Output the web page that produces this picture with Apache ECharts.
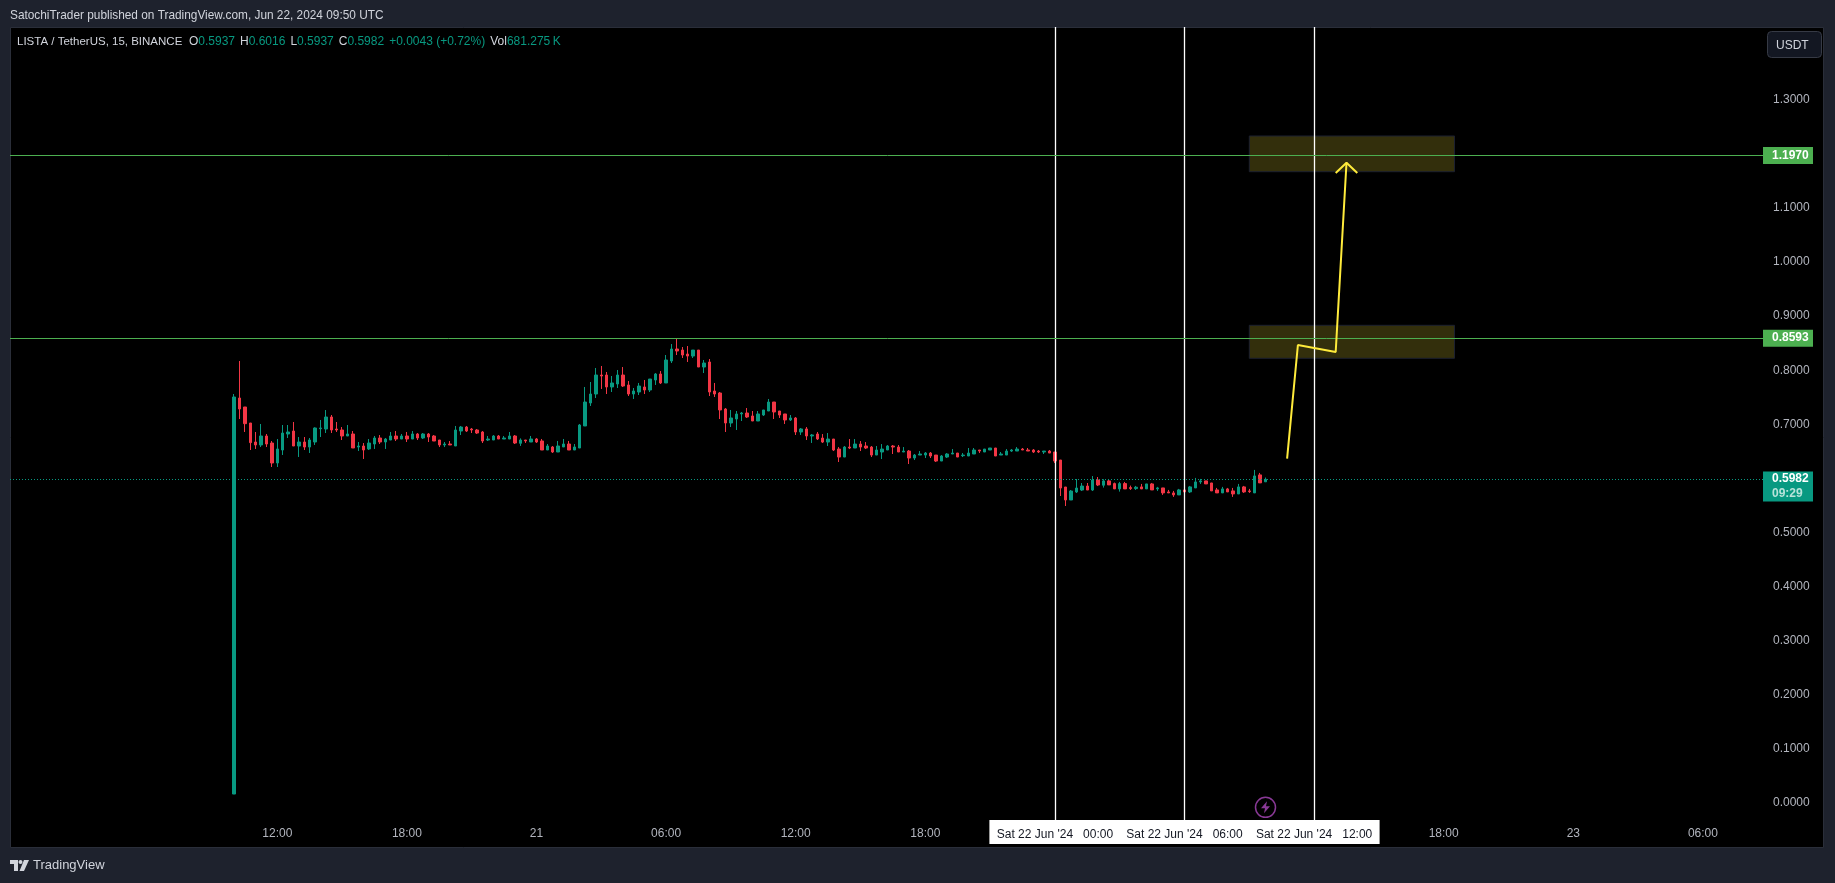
<!DOCTYPE html>
<html>
<head>
<meta charset="utf-8">
<title>LISTA / TetherUS</title>
<script src="https://cdn.jsdelivr.net/npm/echarts@6/dist/echarts.min.js"></script>
<style>
  html, body { margin: 0; padding: 0; background: #1e222d; }
  #main { width: 1835px; height: 883px; }
</style>
</head>
<body>
<div id="main"></div>
<script>
const font = "'Liberation Sans', sans-serif";

// 15 minute candles: open, close, low, high
const ohlc = [
  [0.0166,0.7505,0.0166,0.7560],[0.7486,0.7283,0.7098,0.8170],[0.7320,0.7012,0.6858,0.7320],[0.7024,0.6661,0.6525,0.7024],
  [0.6673,0.6618,0.6544,0.6858],[0.6618,0.6784,0.6580,0.7006],[0.6784,0.6636,0.6580,0.6821],[0.6654,0.6285,0.6211,0.6691],
  [0.6285,0.6544,0.6211,0.6728],[0.6525,0.6839,0.6433,0.6987],[0.6821,0.6858,0.6747,0.6987],[0.6876,0.6599,0.6599,0.7043],
  [0.6599,0.6673,0.6396,0.6765],[0.6673,0.6580,0.6525,0.6765],[0.6580,0.6710,0.6470,0.6747],[0.6673,0.6932,0.6618,0.6944],
  [0.6919,0.6932,0.6765,0.7080],[0.6913,0.7135,0.6839,0.7264],[0.7135,0.6895,0.6839,0.7172],[0.6913,0.6895,0.6858,0.7043],
  [0.6895,0.6784,0.6710,0.6950],[0.6784,0.6821,0.6784,0.6987],[0.6821,0.6562,0.6562,0.6876],[0.6580,0.6599,0.6507,0.6673],
  [0.6599,0.6525,0.6359,0.6654],[0.6544,0.6654,0.6525,0.6728],[0.6636,0.6747,0.6544,0.6784],[0.6747,0.6673,0.6636,0.6802],
  [0.6673,0.6728,0.6544,0.6747],[0.6710,0.6784,0.6710,0.6858],[0.6784,0.6728,0.6691,0.6876],[0.6728,0.6784,0.6728,0.6821],
  [0.6784,0.6728,0.6673,0.6858],[0.6728,0.6821,0.6728,0.6876],[0.6821,0.6747,0.6710,0.6839],[0.6747,0.6821,0.6728,0.6839],
  [0.6821,0.6765,0.6673,0.6839],[0.6784,0.6691,0.6691,0.6802],[0.6710,0.6618,0.6580,0.6710],[0.6618,0.6636,0.6580,0.6673],
  [0.6636,0.6618,0.6618,0.6691],[0.6599,0.6895,0.6599,0.6969],[0.6876,0.6950,0.6802,0.6969],[0.6950,0.6876,0.6858,0.6969],
  [0.6913,0.6895,0.6839,0.6932],[0.6895,0.6839,0.6821,0.6913],[0.6858,0.6691,0.6654,0.6876],[0.6710,0.6728,0.6691,0.6784],
  [0.6710,0.6784,0.6710,0.6802],[0.6784,0.6728,0.6728,0.6802],[0.6728,0.6747,0.6728,0.6784],[0.6728,0.6784,0.6728,0.6858],
  [0.6784,0.6654,0.6636,0.6802],[0.6649,0.6710,0.6600,0.6740],[0.6710,0.6692,0.6655,0.6710],[0.6673,0.6729,0.6673,0.6784],
  [0.6729,0.6673,0.6655,0.6747],[0.6692,0.6525,0.6525,0.6729],[0.6525,0.6599,0.6525,0.6636],[0.6581,0.6488,0.6470,0.6599],
  [0.6488,0.6599,0.6488,0.6692],[0.6581,0.6636,0.6581,0.6729],[0.6636,0.6525,0.6525,0.6692],[0.6525,0.6581,0.6525,0.6636],
  [0.6562,0.6987,0.6562,0.7006],[0.6969,0.7412,0.6969,0.7690],[0.7394,0.7560,0.7339,0.7782],[0.7560,0.7911,0.7486,0.8041],
  [0.7911,0.7893,0.7653,0.8078],[0.7911,0.7690,0.7560,0.7967],[0.7690,0.7764,0.7597,0.7893],[0.7745,0.7911,0.7671,0.8004],
  [0.7911,0.7708,0.7690,0.8059],[0.7727,0.7560,0.7523,0.7800],[0.7560,0.7616,0.7468,0.7671],[0.7597,0.7708,0.7542,0.7764],
  [0.7690,0.7634,0.7560,0.7819],[0.7634,0.7837,0.7597,0.7837],[0.7819,0.7930,0.7727,0.7948],[0.7930,0.7764,0.7745,0.7985],
  [0.7764,0.8189,0.7764,0.8281],[0.8170,0.8392,0.8133,0.8484],[0.8392,0.8355,0.8281,0.8577],[0.8373,0.8281,0.8226,0.8429],
  [0.8299,0.8262,0.8152,0.8447],[0.8262,0.8373,0.8226,0.8373],[0.8373,0.8059,0.8059,0.8373],[0.8059,0.8133,0.7948,0.8189],
  [0.8152,0.7597,0.7523,0.8207],[0.7616,0.7560,0.7505,0.7764],[0.7579,0.7265,0.7098,0.7597],[0.7283,0.7024,0.6858,0.7301],
  [0.7024,0.7117,0.6950,0.7265],[0.7098,0.7191,0.6895,0.7246],[0.7191,0.7209,0.7061,0.7228],[0.7209,0.7135,0.7117,0.7301],
  [0.7154,0.7061,0.7061,0.7246],[0.7061,0.7191,0.7061,0.7246],[0.7172,0.7265,0.7154,0.7265],[0.7246,0.7412,0.7246,0.7468],
  [0.7412,0.7228,0.7098,0.7412],[0.7246,0.7172,0.7117,0.7246],[0.7191,0.7080,0.7006,0.7191],[0.7080,0.7117,0.7061,0.7172],
  [0.7117,0.6858,0.6803,0.7135],[0.6858,0.6914,0.6803,0.6932],[0.6914,0.6784,0.6710,0.6950],[0.6784,0.6803,0.6655,0.6821],
  [0.6821,0.6729,0.6710,0.6858],[0.6746,0.6672,0.6654,0.6820],[0.6672,0.6728,0.6599,0.6839],[0.6728,0.6525,0.6506,0.6728],
  [0.6543,0.6395,0.6303,0.6580],[0.6395,0.6580,0.6395,0.6599],[0.6580,0.6562,0.6543,0.6728],[0.6562,0.6635,0.6562,0.6728],
  [0.6635,0.6580,0.6506,0.6691],[0.6599,0.6562,0.6543,0.6672],[0.6580,0.6432,0.6395,0.6599],[0.6432,0.6525,0.6432,0.6599],
  [0.6488,0.6543,0.6358,0.6635],[0.6525,0.6599,0.6525,0.6617],[0.6599,0.6580,0.6451,0.6617],[0.6580,0.6488,0.6488,0.6617],
  [0.6488,0.6506,0.6488,0.6580],[0.6506,0.6377,0.6266,0.6525],[0.6377,0.6432,0.6340,0.6451],[0.6432,0.6451,0.6432,0.6506],
  [0.6432,0.6469,0.6377,0.6488],[0.6469,0.6414,0.6377,0.6488],[0.6432,0.6321,0.6303,0.6432],[0.6321,0.6414,0.6321,0.6432],
  [0.6395,0.6451,0.6377,0.6469],[0.6451,0.6469,0.6451,0.6543],[0.6469,0.6395,0.6395,0.6469],[0.6420,0.6432,0.6395,0.6469],
  [0.6414,0.6469,0.6414,0.6562],[0.6451,0.6525,0.6451,0.6562],[0.6525,0.6506,0.6469,0.6525],[0.6488,0.6543,0.6488,0.6543],
  [0.6525,0.6562,0.6525,0.6562],[0.6562,0.6414,0.6414,0.6562],[0.6432,0.6451,0.6432,0.6488],[0.6432,0.6506,0.6432,0.6543],
  [0.6506,0.6525,0.6488,0.6543],[0.6506,0.6543,0.6506,0.6580],[0.6543,0.6525,0.6525,0.6562],[0.6525,0.6506,0.6506,0.6562],
  [0.6525,0.6488,0.6469,0.6543],[0.6506,0.6488,0.6469,0.6525],[0.6488,0.6506,0.6451,0.6506],[0.6506,0.6469,0.6469,0.6525],
  [0.6488,0.6321,0.6284,0.6488],[0.6340,0.5822,0.5675,0.6340],[0.5841,0.5601,0.5490,0.5841],[0.5601,0.5767,0.5601,0.5785],
  [0.5749,0.5822,0.5730,0.5989],[0.5785,0.5859,0.5767,0.5915],[0.5859,0.5785,0.5785,0.5915],[0.5785,0.5970,0.5767,0.6044],
  [0.5970,0.5878,0.5859,0.6026],[0.5874,0.5954,0.5830,0.5984],[0.5954,0.5880,0.5880,0.5972],[0.5904,0.5806,0.5806,0.5923],
  [0.5806,0.5904,0.5756,0.5935],[0.5904,0.5806,0.5806,0.5935],[0.5830,0.5812,0.5787,0.5867],[0.5812,0.5837,0.5787,0.5861],
  [0.5843,0.5806,0.5806,0.5898],[0.5806,0.5898,0.5806,0.5898],[0.5898,0.5787,0.5787,0.5916],[0.5806,0.5824,0.5769,0.5843],
  [0.5824,0.5732,0.5695,0.5824],[0.5750,0.5732,0.5732,0.5787],[0.5732,0.5695,0.5658,0.5769],[0.5695,0.5787,0.5695,0.5806],
  [0.5787,0.5750,0.5713,0.5806],[0.5750,0.5843,0.5732,0.5861],[0.5824,0.5935,0.5824,0.6009],[0.5935,0.5954,0.5898,0.5990],
  [0.5954,0.5898,0.5898,0.5954],[0.5916,0.5769,0.5769,0.5916],[0.5787,0.5732,0.5732,0.5824],[0.5732,0.5806,0.5732,0.5843],
  [0.5806,0.5750,0.5750,0.5824],[0.5769,0.5713,0.5658,0.5824],[0.5713,0.5843,0.5713,0.5898],[0.5843,0.5750,0.5732,0.5861],
  [0.5769,0.5756,0.5732,0.5806],[0.5732,0.6046,0.5732,0.6157],[0.6065,0.5917,0.5917,0.6101],[0.5937,0.5982,0.5937,0.6016]
];

// time axis: slot 41 is the first candle, 20 Jun 10:00
const firstCandleSlot = 41;
const slotCount = 325;
const categories = [];
for (let k = 0; k < slotCount; k++) categories.push("slot " + k);
const tickSlots = [49, 73, 97, 121, 145, 169, 265, 289, 313];
const tickTexts = ["12:00", "18:00", "21", "06:00", "12:00", "18:00", "18:00", "23", "06:00"];

const priceTicks = [0, 0.1, 0.2, 0.3, 0.4, 0.5, 0.6, 0.7, 0.8, 0.9, 1.0, 1.1, 1.2, 1.3];

// drawings on the chart
const verticalSlots = [193, 217, 241];
const verticalTexts = ["Sat 22 Jun '24   00:00", "Sat 22 Jun '24   06:00", "Sat 22 Jun '24   12:00"];
const levelPrices = [1.197, 0.8593];
const lastPrice = 0.5982;
const zoneSlots = [229, 267];
const zonePrices = [[1.1669, 1.2329], [0.822, 0.883]];
const arrowPath = [[236, 0.6364], [238, 0.8466], [245, 0.8336], [247, 1.1836]];
const arrowHead = [[245, 1.1645], [247, 1.1836], [249, 1.1645]];
const boltPoint = [232, -0.008];

const green = "#089981";
const red = "#f23645";
const priceTag = (bg, formatter) => ({
  show: true, position: "end", distance: -2, width: 41, align: "left",
  backgroundColor: bg, color: "#fff", fontFamily: font, fontSize: 12, fontWeight: "bold",
  lineHeight: 17, padding: [0, 0, 0, 9], formatter,
});

const myChart = echarts.init(document.getElementById("main"));
const option = {
  animation: false,
  backgroundColor: "#1e222d",
  title: [
    { left: 5, top: 4, text: "SatochiTrader published on TradingView.com, Jun 22, 2024 09:50 UTC",
      textStyle: { color: "#d1d4dc", fontFamily: font, fontSize: 11.85, fontWeight: "normal", lineHeight: 14 } },
    { left: 12, top: 30,
      text: "{h|LISTA / TetherUS, 15, BINANCE}{n|  O}{v|0.5937}{m|H}{v|0.6016}{m|L}{v|0.5937}{m|C}{v|0.5982}{d|+0.0043 (+0.72%)}{m|Vol}{v|681.275\u2009K}",
      textStyle: { fontFamily: font, fontSize: 12, lineHeight: 14, fontWeight: "normal",
        rich: {
          h: { color: "#d1d4dc", fontFamily: font, fontSize: 11.5, fontWeight: "normal" },
          n: { color: "#d1d4dc", fontFamily: font, fontSize: 12, fontWeight: "normal" },
          m: { color: "#d1d4dc", fontFamily: font, fontSize: 12, fontWeight: "normal", padding: [0, 0, 0, 5] },
          v: { color: green, fontFamily: font, fontSize: 12, fontWeight: "normal" },
          d: { color: green, fontFamily: font, fontSize: 12, fontWeight: "normal", padding: [0, 0, 0, 5] },
        } } },
  ],
  grid: { left: 10, top: 27, width: 1755, height: 793 },
  xAxis: {
    type: "category",
    data: categories,
    boundaryGap: true,
    axisLine: { show: false },
    axisTick: { show: false },
    splitLine: { show: false },
    axisLabel: {
      color: "#b2b5be", fontFamily: font, fontSize: 12, margin: 8,
      interval: (index) => tickSlots.includes(index),
      formatter: (value, index) => tickTexts[tickSlots.indexOf(index)] || "",
    },
  },
  yAxis: {
    type: "value",
    position: "right",
    min: -0.0314,
    max: 1.4344,
    axisLine: { show: false },
    axisTick: { show: false },
    splitLine: { show: false },
    axisLabel: {
      customValues: priceTicks,
      color: "#b2b5be", fontFamily: font, fontSize: 12, margin: 8, padding: [4, 0, 0, 0],
      formatter: (v) => v.toFixed(4),
    },
  },
  series: [
    {
      type: "candlestick",
      data: ohlc.map((row, i) => [firstCandleSlot + i, ...row]),
      encode: { x: 0, y: [1, 2, 3, 4] },
      barWidth: 3,
      itemStyle: { color: green, color0: red, borderColor: green, borderColor0: red, borderWidth: 1 },
      markArea: {
        silent: true,
        itemStyle: { color: "rgba(255, 235, 59, 0.2)", borderColor: "#1c2030", borderWidth: 1 },
        data: zonePrices.map((p) => [
          { xAxis: zoneSlots[0], yAxis: p[0] },
          { xAxis: zoneSlots[1], yAxis: p[1] },
        ]),
      },
      markLine: {
        silent: true,
        symbol: "none",
        precision: 4,
        data: [
          ...verticalSlots.map((slot, i) => ({
            xAxis: slot,
            lineStyle: { color: "#ffffff", width: 1.3, type: "solid" },
            label: {
              show: true, position: "start", distance: 0, width: 131, height: 19, lineHeight: 19,
              padding: [5, 0, 0, 0],
              align: "center", backgroundColor: "#fff", color: "#131722",
              fontFamily: font, fontSize: 12, formatter: verticalTexts[i],
            },
          })),
          ...levelPrices.map((price) => ({
            yAxis: price,
            lineStyle: { color: "#4caf50", width: 1, type: "solid" },
            label: priceTag("#4caf50", price.toFixed(4)),
          })),
          {
            yAxis: lastPrice,
            lineStyle: { color: green, width: 1, type: [1, 2] },
            label: {
              ...priceTag(green, "{p|" + lastPrice.toFixed(4) + "}\n{t|09:29}"),
              offset: [0, 7],
              rich: {
                p: { color: "#fff", fontFamily: font, fontSize: 12, fontWeight: "bold", lineHeight: 15 },
                t: { color: "#b8e3da", fontFamily: font, fontSize: 12, lineHeight: 15 },
              },
            },
          },
        ],
      },
    },
    {
      type: "line", data: arrowPath, symbol: "none", silent: true, z: 5,
      lineStyle: { color: "#ffeb3b", width: 2 },
    },
    {
      type: "line", data: arrowHead, symbol: "none", silent: true, z: 5,
      lineStyle: { color: "#ffeb3b", width: 2 },
    },
    {
      type: "scatter", data: [boltPoint], symbol: "circle", symbolSize: 20, silent: true, z: 6,
      itemStyle: { color: "transparent", borderColor: "#ab47bc", borderWidth: 1.5 },
    },
    {
      type: "scatter", data: [boltPoint], silent: true, z: 6,
      symbol: "path://M6 0L0 7L4 7L3 12L9 5L5 5Z", symbolSize: [9, 12],
      itemStyle: { color: "#ab47bc" },
    },
  ],
  graphic: [
    { type: "rect", z: -1, shape: { x: 10.5, y: 27.5, width: 1813, height: 820 },
      style: { fill: "#000", stroke: "#2a2e39", lineWidth: 1 } },
    { type: "rect", z: 10, shape: { x: 1767.5, y: 31.5, width: 54, height: 26, r: 4 },
      style: { fill: "#131722", stroke: "#363a45", lineWidth: 1 } },
    { type: "text", z: 11, x: 1776, y: 40,
      style: { text: "USDT", fill: "#d1d4dc", font: "12px " + font } },
    { type: "polygon", z: 11, shape: { points: [[10, 860], [18, 860], [18, 871], [14, 871], [14, 864], [10, 864]] },
      style: { fill: "#d1d4dc" } },
    { type: "polygon", z: 11, shape: { points: [[24, 860], [29, 860], [24, 871], [19.5, 871]] },
      style: { fill: "#d1d4dc" } },
    { type: "circle", z: 11, shape: { cx: 20.5, cy: 862, r: 2 }, style: { fill: "#d1d4dc" } },
    { type: "text", z: 11, x: 33, y: 859,
      style: { text: "TradingView", fill: "#d1d4dc", font: "13px " + font } },
  ],
};
myChart.setOption(option);
</script>
</body>
</html>
